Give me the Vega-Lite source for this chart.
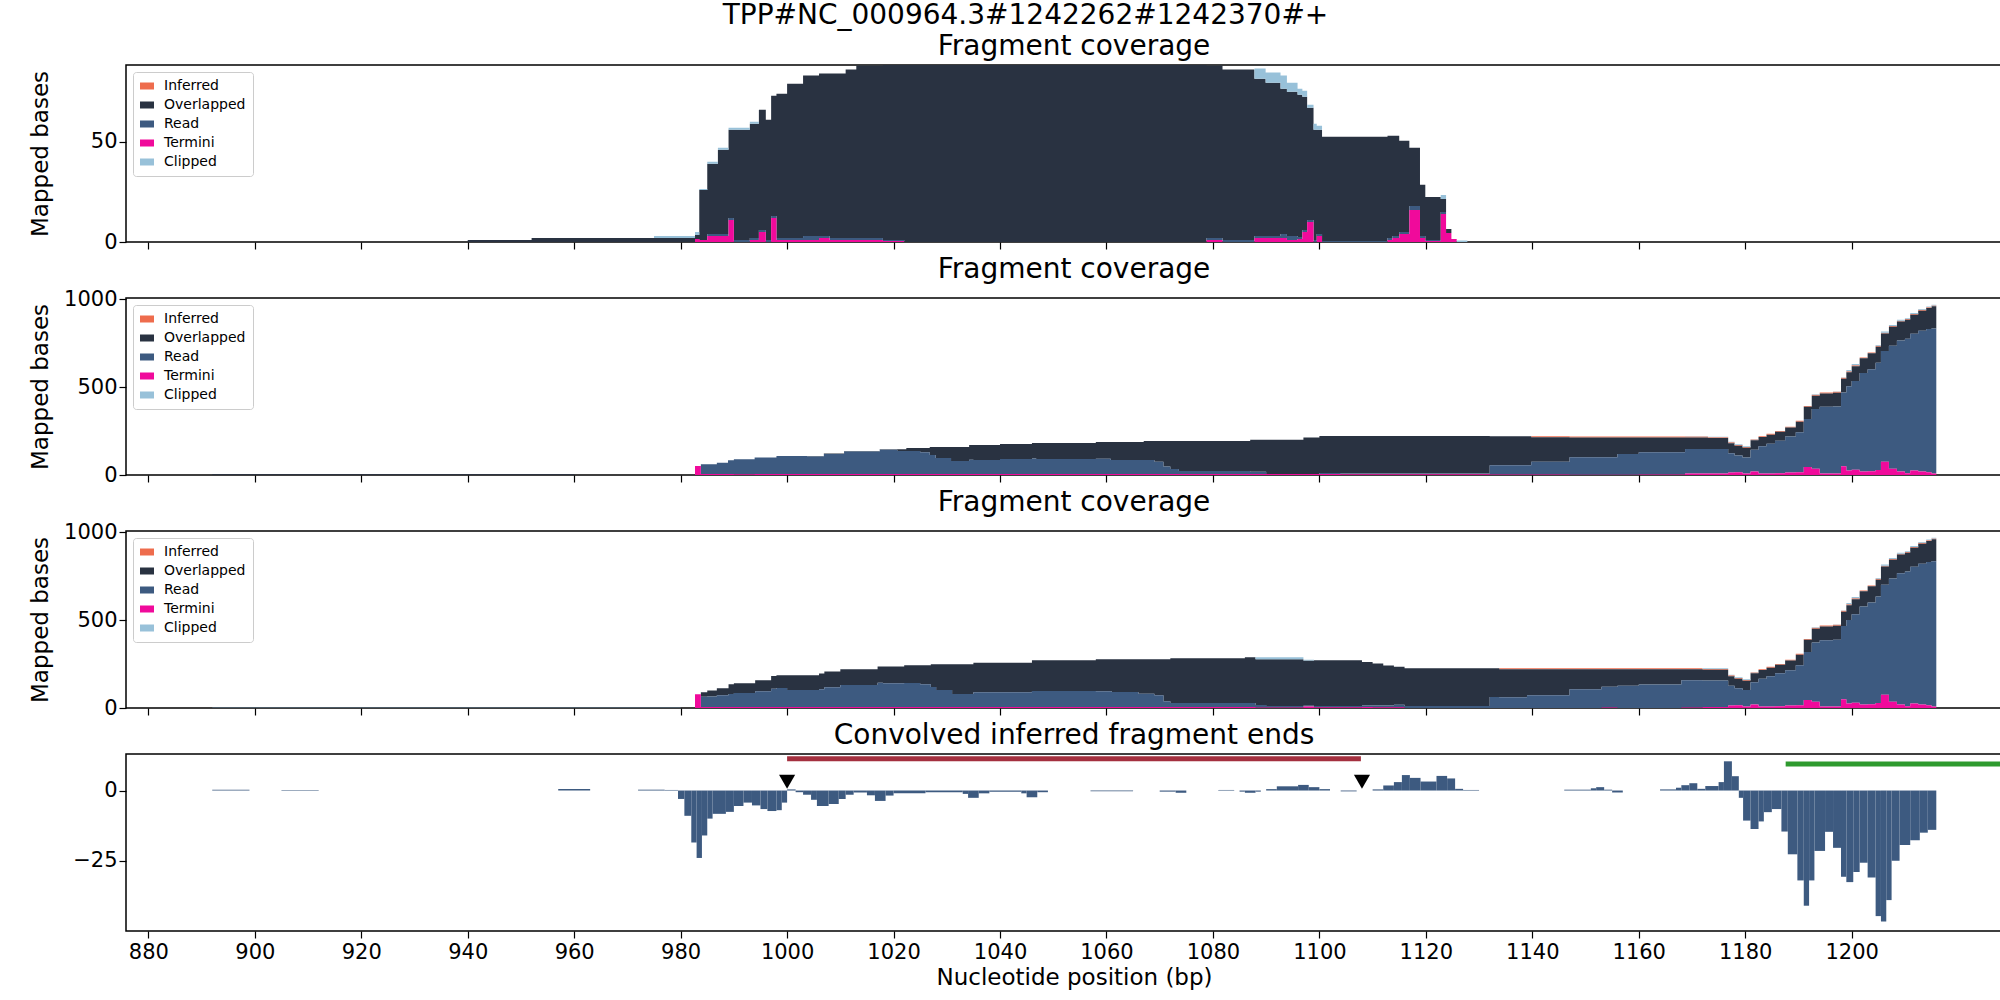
{
"$schema":"https://vega.github.io/schema/vega-lite/v6.json",
"background":"white",
"padding":{"left":28,"top":2,"right":2,"bottom":2},
"title":{"text":"TPP#NC_000964.3#1242262#1242370#+","fontSize":28,"fontWeight":"normal","anchor":"middle","offset":2},
"config":{"font":"DejaVu Sans","view":{"stroke":"black","strokeWidth":1.5},
"title":{"fontSize":28,"fontWeight":"normal","offset":4},
"axis":{"grid":false,"labelFontSize":21,"titleFontSize":23,"titleFontWeight":"normal","tickSize":7,"tickColor":"black","labelColor":"black","titleColor":"black","domain":false,"tickWidth":1.2,"format":"d"},
"axisY":{"minExtent":70,"maxExtent":70,"titlePadding":4},
"legend":{"orient":"top-left","offset":7,"fillColor":"white","strokeColor":"#cccccc","padding":7,"cornerRadius":3,"labelFontSize":14,"symbolType":"M-1,-0.5H1V0.5H-1Z","symbolSize":196,"symbolStrokeWidth":0,"rowPadding":5,"labelOffset":10,"title":null}},
"spacing":2,
"datasets":{
"p1":[
{"x":876,"Inferred":0,"Overlapped":0,"Read":0,"Termini":0,"Clipped":0},
{"x":940,"Inferred":0,"Overlapped":1,"Read":0,"Termini":0,"Clipped":0},
{"x":952,"Inferred":0,"Overlapped":2,"Read":0,"Termini":0,"Clipped":0},
{"x":975,"Inferred":0,"Overlapped":2,"Read":0,"Termini":0,"Clipped":1},
{"x":982.7,"Inferred":0,"Overlapped":2,"Read":0,"Termini":1.5,"Clipped":1.5},
{"x":983.5,"Inferred":0,"Overlapped":25,"Read":0,"Termini":1,"Clipped":0.5},
{"x":985,"Inferred":0,"Overlapped":35,"Read":1,"Termini":3,"Clipped":1},
{"x":987,"Inferred":0,"Overlapped":42,"Read":1,"Termini":3,"Clipped":1},
{"x":989,"Inferred":0,"Overlapped":44,"Read":1,"Termini":11,"Clipped":1},
{"x":990,"Inferred":0,"Overlapped":55,"Read":1,"Termini":0,"Clipped":1},
{"x":993,"Inferred":0,"Overlapped":57,"Read":1,"Termini":1,"Clipped":1},
{"x":994.7,"Inferred":0,"Overlapped":60,"Read":1,"Termini":5,"Clipped":0},
{"x":996,"Inferred":0,"Overlapped":60,"Read":1,"Termini":0,"Clipped":0},
{"x":997,"Inferred":0,"Overlapped":60,"Read":1,"Termini":12,"Clipped":0},
{"x":998,"Inferred":0,"Overlapped":72,"Read":1,"Termini":1,"Clipped":0},
{"x":1000,"Inferred":0,"Overlapped":77,"Read":1,"Termini":1,"Clipped":0},
{"x":1003,"Inferred":0,"Overlapped":80,"Read":2,"Termini":1,"Clipped":0},
{"x":1006,"Inferred":0,"Overlapped":81,"Read":1,"Termini":2,"Clipped":0},
{"x":1008,"Inferred":0,"Overlapped":82,"Read":1,"Termini":1,"Clipped":0},
{"x":1011,"Inferred":0,"Overlapped":84,"Read":1,"Termini":1,"Clipped":0},
{"x":1013,"Inferred":0,"Overlapped":86,"Read":1,"Termini":1,"Clipped":0},
{"x":1018,"Inferred":0,"Overlapped":87.5,"Read":0.5,"Termini":0.5,"Clipped":0},
{"x":1022,"Inferred":0,"Overlapped":88.5,"Read":0,"Termini":0,"Clipped":0},
{"x":1078.8,"Inferred":0,"Overlapped":86,"Read":1,"Termini":1,"Clipped":0},
{"x":1081.8,"Inferred":0,"Overlapped":85,"Read":1,"Termini":0,"Clipped":0},
{"x":1087.8,"Inferred":0,"Overlapped":78.5,"Read":1,"Termini":2,"Clipped":5},
{"x":1089.9,"Inferred":0,"Overlapped":76.5,"Read":1,"Termini":2,"Clipped":5},
{"x":1092.7,"Inferred":0,"Overlapped":72.5,"Read":2,"Termini":2,"Clipped":6.5},
{"x":1093.9,"Inferred":0,"Overlapped":72,"Read":2,"Termini":1,"Clipped":4.5},
{"x":1095.9,"Inferred":0,"Overlapped":71,"Read":1,"Termini":1.5,"Clipped":3},
{"x":1096.8,"Inferred":0,"Overlapped":66.5,"Read":1,"Termini":5,"Clipped":3},
{"x":1097.7,"Inferred":0,"Overlapped":56,"Read":1,"Termini":10,"Clipped":1.5},
{"x":1098.9,"Inferred":0,"Overlapped":55,"Read":1,"Termini":0,"Clipped":3},
{"x":1099.5,"Inferred":0,"Overlapped":52,"Read":1,"Termini":3,"Clipped":2},
{"x":1100.5,"Inferred":0,"Overlapped":52,"Read":0.5,"Termini":0,"Clipped":0},
{"x":1112.8,"Inferred":0,"Overlapped":51,"Read":1,"Termini":1,"Clipped":0},
{"x":1113.7,"Inferred":0,"Overlapped":50,"Read":1,"Termini":2,"Clipped":0},
{"x":1115,"Inferred":0,"Overlapped":45.5,"Read":1,"Termini":4,"Clipped":0},
{"x":1116.9,"Inferred":0,"Overlapped":29,"Read":2,"Termini":16,"Clipped":0},
{"x":1118.9,"Inferred":0,"Overlapped":25.5,"Read":1,"Termini":2,"Clipped":0},
{"x":1119.9,"Inferred":0,"Overlapped":21.5,"Read":0.5,"Termini":0.5,"Clipped":0},
{"x":1122.8,"Inferred":0,"Overlapped":6.5,"Read":1,"Termini":14,"Clipped":2},
{"x":1123.8,"Inferred":0,"Overlapped":2,"Read":0,"Termini":4.5,"Clipped":0},
{"x":1124.8,"Inferred":0,"Overlapped":0,"Read":0,"Termini":1.5,"Clipped":0},
{"x":1125.8,"Inferred":0,"Overlapped":0,"Read":0,"Termini":0,"Clipped":0.8},
{"x":1127.8,"Inferred":0,"Overlapped":0,"Read":0,"Termini":0,"Clipped":0},
{"x":1232,"Inferred":0,"Overlapped":0,"Read":0,"Termini":0,"Clipped":0}
],
"p2":[
{"x":876,"Inferred":0,"Overlapped":0,"Read":0,"Termini":0,"Clipped":0},
{"x":892,"Inferred":0,"Overlapped":4,"Read":0,"Termini":0,"Clipped":0},
{"x":960,"Inferred":0,"Overlapped":0,"Read":0,"Termini":0,"Clipped":0},
{"x":982.7,"Inferred":0,"Overlapped":0,"Read":0,"Termini":51,"Clipped":0},
{"x":983.8,"Inferred":0,"Overlapped":0,"Read":55,"Termini":6,"Clipped":0},
{"x":986.8,"Inferred":0,"Overlapped":0,"Read":64,"Termini":6,"Clipped":0},
{"x":988.9,"Inferred":0,"Overlapped":0,"Read":78,"Termini":6,"Clipped":0},
{"x":990,"Inferred":0,"Overlapped":0,"Read":85,"Termini":4,"Clipped":0},
{"x":993.9,"Inferred":0,"Overlapped":0,"Read":93,"Termini":6,"Clipped":0},
{"x":998,"Inferred":0,"Overlapped":0,"Read":102,"Termini":6,"Clipped":0},
{"x":1003.8,"Inferred":0,"Overlapped":3,"Read":99,"Termini":6,"Clipped":0},
{"x":1006.9,"Inferred":0,"Overlapped":3,"Read":113,"Termini":6,"Clipped":0},
{"x":1010.7,"Inferred":0,"Overlapped":3,"Read":128,"Termini":6,"Clipped":0},
{"x":1017.4,"Inferred":0,"Overlapped":3,"Read":138,"Termini":5,"Clipped":0},
{"x":1020.7,"Inferred":0,"Overlapped":10,"Read":131,"Termini":5,"Clipped":0},
{"x":1022.4,"Inferred":0,"Overlapped":17,"Read":131,"Termini":6,"Clipped":0},
{"x":1025,"Inferred":0,"Overlapped":25,"Read":123,"Termini":6,"Clipped":0},
{"x":1026.8,"Inferred":0,"Overlapped":46,"Read":108,"Termini":6,"Clipped":0},
{"x":1027.9,"Inferred":0,"Overlapped":63,"Read":91,"Termini":6,"Clipped":0},
{"x":1030.8,"Inferred":0,"Overlapped":80,"Read":74,"Termini":6,"Clipped":0},
{"x":1034.2,"Inferred":0,"Overlapped":84,"Read":81,"Termini":6,"Clipped":0},
{"x":1035,"Inferred":0,"Overlapped":86,"Read":79,"Termini":6,"Clipped":0},
{"x":1040,"Inferred":0,"Overlapped":86,"Read":85,"Termini":6,"Clipped":0},
{"x":1046,"Inferred":0,"Overlapped":88,"Read":88,"Termini":6,"Clipped":0},
{"x":1046.8,"Inferred":0,"Overlapped":91,"Read":85,"Termini":6,"Clipped":0},
{"x":1058,"Inferred":0,"Overlapped":95,"Read":87,"Termini":6,"Clipped":0},
{"x":1060.8,"Inferred":0,"Overlapped":103,"Read":79,"Termini":6,"Clipped":0},
{"x":1067,"Inferred":0,"Overlapped":108,"Read":80,"Termini":6,"Clipped":0},
{"x":1069,"Inferred":0,"Overlapped":118,"Read":70,"Termini":6,"Clipped":0},
{"x":1070.7,"Inferred":0,"Overlapped":146,"Read":42,"Termini":6,"Clipped":0},
{"x":1072,"Inferred":0,"Overlapped":160,"Read":28,"Termini":6,"Clipped":0},
{"x":1073.6,"Inferred":0,"Overlapped":171,"Read":17,"Termini":6,"Clipped":0},
{"x":1087,"Inferred":0,"Overlapped":182,"Read":12,"Termini":6,"Clipped":0},
{"x":1090,"Inferred":0,"Overlapped":194,"Read":0,"Termini":6,"Clipped":0},
{"x":1097,"Inferred":0,"Overlapped":207,"Read":0,"Termini":6,"Clipped":0},
{"x":1100,"Inferred":0,"Overlapped":211,"Read":5,"Termini":6,"Clipped":0},
{"x":1104,"Inferred":0,"Overlapped":213,"Read":5,"Termini":4,"Clipped":0},
{"x":1132,"Inferred":0,"Overlapped":165,"Read":53,"Termini":3,"Clipped":0},
{"x":1139.8,"Inferred":5,"Overlapped":140,"Read":72,"Termini":3,"Clipped":0},
{"x":1147,"Inferred":5,"Overlapped":113,"Read":99,"Termini":2,"Clipped":0},
{"x":1156,"Inferred":5,"Overlapped":94,"Read":118,"Termini":2,"Clipped":0},
{"x":1160,"Inferred":5,"Overlapped":85,"Read":126,"Termini":3,"Clipped":0},
{"x":1168.7,"Inferred":5,"Overlapped":66,"Read":140,"Termini":8,"Clipped":2},
{"x":1173,"Inferred":5,"Overlapped":62,"Read":140,"Termini":8,"Clipped":2},
{"x":1176.8,"Inferred":5,"Overlapped":57,"Read":110,"Termini":14,"Clipped":3},
{"x":1178,"Inferred":5,"Overlapped":55,"Read":96,"Termini":15,"Clipped":4},
{"x":1179.5,"Inferred":5,"Overlapped":55,"Read":92,"Termini":8,"Clipped":3},
{"x":1181,"Inferred":5,"Overlapped":53,"Read":124,"Termini":20,"Clipped":1},
{"x":1182.5,"Inferred":5,"Overlapped":52,"Read":156,"Termini":8,"Clipped":0},
{"x":1184,"Inferred":5,"Overlapped":51,"Read":170,"Termini":8,"Clipped":0},
{"x":1185.6,"Inferred":5,"Overlapped":51,"Read":185,"Termini":10,"Clipped":0},
{"x":1187.5,"Inferred":5,"Overlapped":51,"Read":205,"Termini":14,"Clipped":0},
{"x":1189.5,"Inferred":5,"Overlapped":60,"Read":228,"Termini":15,"Clipped":0},
{"x":1191,"Inferred":5,"Overlapped":70,"Read":273,"Termini":45,"Clipped":0},
{"x":1192.5,"Inferred":5,"Overlapped":76,"Read":340,"Termini":35,"Clipped":4},
{"x":1194,"Inferred":5,"Overlapped":76,"Read":380,"Termini":8,"Clipped":0},
{"x":1196.5,"Inferred":5,"Overlapped":78,"Read":382,"Termini":8,"Clipped":2},
{"x":1198,"Inferred":5,"Overlapped":78,"Read":420,"Termini":50,"Clipped":2},
{"x":1199,"Inferred":5,"Overlapped":80,"Read":480,"Termini":25,"Clipped":8},
{"x":1200,"Inferred":5,"Overlapped":84,"Read":505,"Termini":30,"Clipped":7},
{"x":1201.5,"Inferred":5,"Overlapped":84,"Read":560,"Termini":20,"Clipped":0},
{"x":1203,"Inferred":5,"Overlapped":90,"Read":580,"Termini":22,"Clipped":0},
{"x":1204.5,"Inferred":5,"Overlapped":92,"Read":610,"Termini":28,"Clipped":4},
{"x":1205.5,"Inferred":5,"Overlapped":100,"Read":630,"Termini":75,"Clipped":7},
{"x":1207,"Inferred":5,"Overlapped":108,"Read":700,"Termini":35,"Clipped":5},
{"x":1208.5,"Inferred":5,"Overlapped":108,"Read":745,"Termini":20,"Clipped":5},
{"x":1210,"Inferred":5,"Overlapped":108,"Read":765,"Termini":10,"Clipped":4},
{"x":1211,"Inferred":5,"Overlapped":108,"Read":778,"Termini":25,"Clipped":6},
{"x":1212.5,"Inferred":5,"Overlapped":115,"Read":800,"Termini":20,"Clipped":4},
{"x":1214,"Inferred":5,"Overlapped":120,"Read":815,"Termini":15,"Clipped":3},
{"x":1215,"Inferred":5,"Overlapped":127,"Read":825,"Termini":8,"Clipped":3},
{"x":1215.9,"Inferred":0,"Overlapped":0,"Read":0,"Termini":0,"Clipped":0},
{"x":1232,"Inferred":0,"Overlapped":0,"Read":0,"Termini":0,"Clipped":0}
],
"p3":[
{"x":876,"Inferred":0,"Overlapped":0,"Read":0,"Termini":0,"Clipped":0},
{"x":892,"Inferred":0,"Overlapped":3,"Read":0,"Termini":0,"Clipped":1},
{"x":980,"Inferred":0,"Overlapped":0,"Read":0,"Termini":0,"Clipped":0},
{"x":982.7,"Inferred":0,"Overlapped":0,"Read":0,"Termini":78,"Clipped":0},
{"x":983.8,"Inferred":0,"Overlapped":25,"Read":58,"Termini":6,"Clipped":0},
{"x":985,"Inferred":0,"Overlapped":34,"Read":60,"Termini":6,"Clipped":0},
{"x":986.8,"Inferred":0,"Overlapped":40,"Read":66,"Termini":6,"Clipped":0},
{"x":989,"Inferred":0,"Overlapped":55,"Read":74,"Termini":6,"Clipped":0},
{"x":990,"Inferred":0,"Overlapped":55,"Read":80,"Termini":6,"Clipped":0},
{"x":994,"Inferred":0,"Overlapped":63,"Read":89,"Termini":6,"Clipped":0},
{"x":997,"Inferred":0,"Overlapped":72,"Read":104,"Termini":6,"Clipped":0},
{"x":998,"Inferred":0,"Overlapped":72,"Read":108,"Termini":6,"Clipped":0},
{"x":1000,"Inferred":0,"Overlapped":84,"Read":96,"Termini":6,"Clipped":0},
{"x":1006,"Inferred":0,"Overlapped":89,"Read":101,"Termini":6,"Clipped":0},
{"x":1007,"Inferred":0,"Overlapped":89,"Read":112,"Termini":6,"Clipped":0},
{"x":1010,"Inferred":0,"Overlapped":89,"Read":125,"Termini":6,"Clipped":0},
{"x":1017,"Inferred":0,"Overlapped":92,"Read":138,"Termini":6,"Clipped":0},
{"x":1018,"Inferred":0,"Overlapped":95,"Read":135,"Termini":6,"Clipped":0},
{"x":1022,"Inferred":0,"Overlapped":101,"Read":136,"Termini":6,"Clipped":0},
{"x":1025,"Inferred":0,"Overlapped":108,"Read":129,"Termini":6,"Clipped":0},
{"x":1027,"Inferred":0,"Overlapped":129,"Read":114,"Termini":6,"Clipped":0},
{"x":1028,"Inferred":0,"Overlapped":146,"Read":97,"Termini":6,"Clipped":0},
{"x":1031,"Inferred":0,"Overlapped":169,"Read":74,"Termini":6,"Clipped":0},
{"x":1035,"Inferred":0,"Overlapped":169,"Read":83,"Termini":6,"Clipped":0},
{"x":1046,"Inferred":0,"Overlapped":175,"Read":91,"Termini":6,"Clipped":0},
{"x":1058,"Inferred":0,"Overlapped":181,"Read":90,"Termini":6,"Clipped":0},
{"x":1061,"Inferred":0,"Overlapped":186,"Read":85,"Termini":6,"Clipped":0},
{"x":1066,"Inferred":0,"Overlapped":196,"Read":75,"Termini":6,"Clipped":0},
{"x":1069,"Inferred":0,"Overlapped":205,"Read":66,"Termini":6,"Clipped":0},
{"x":1070.7,"Inferred":0,"Overlapped":238,"Read":33,"Termini":6,"Clipped":0},
{"x":1072,"Inferred":0,"Overlapped":255,"Read":22,"Termini":6,"Clipped":0},
{"x":1086,"Inferred":0,"Overlapped":260,"Read":23,"Termini":6,"Clipped":0},
{"x":1088,"Inferred":0,"Overlapped":260,"Read":14,"Termini":3,"Clipped":12},
{"x":1090,"Inferred":0,"Overlapped":266,"Read":8,"Termini":3,"Clipped":12},
{"x":1097,"Inferred":0,"Overlapped":257,"Read":5,"Termini":8,"Clipped":4},
{"x":1099,"Inferred":0,"Overlapped":260,"Read":8,"Termini":4,"Clipped":0},
{"x":1108,"Inferred":0,"Overlapped":248,"Read":8,"Termini":6,"Clipped":0},
{"x":1110,"Inferred":0,"Overlapped":239,"Read":10,"Termini":4,"Clipped":0},
{"x":1112,"Inferred":0,"Overlapped":228,"Read":10,"Termini":4,"Clipped":0},
{"x":1114,"Inferred":0,"Overlapped":215,"Read":15,"Termini":4,"Clipped":0},
{"x":1116,"Inferred":0,"Overlapped":215,"Read":11,"Termini":0,"Clipped":0},
{"x":1132,"Inferred":0,"Overlapped":163,"Read":63,"Termini":0,"Clipped":0},
{"x":1133.8,"Inferred":5,"Overlapped":160,"Read":61,"Termini":0,"Clipped":0},
{"x":1139,"Inferred":5,"Overlapped":148,"Read":73,"Termini":0,"Clipped":0},
{"x":1147,"Inferred":5,"Overlapped":114,"Read":107,"Termini":0,"Clipped":0},
{"x":1153,"Inferred":5,"Overlapped":100,"Read":118,"Termini":3,"Clipped":0},
{"x":1156,"Inferred":5,"Overlapped":95,"Read":126,"Termini":0,"Clipped":0},
{"x":1160,"Inferred":5,"Overlapped":87,"Read":134,"Termini":0,"Clipped":0},
{"x":1168,"Inferred":5,"Overlapped":63,"Read":155,"Termini":3,"Clipped":0},
{"x":1172,"Inferred":5,"Overlapped":60,"Read":152,"Termini":5,"Clipped":4},
{"x":1176.8,"Inferred":5,"Overlapped":55,"Read":112,"Termini":14,"Clipped":3},
{"x":1178,"Inferred":5,"Overlapped":53,"Read":98,"Termini":15,"Clipped":4},
{"x":1179.5,"Inferred":5,"Overlapped":53,"Read":94,"Termini":8,"Clipped":3},
{"x":1181,"Inferred":5,"Overlapped":51,"Read":126,"Termini":20,"Clipped":1},
{"x":1182.5,"Inferred":5,"Overlapped":50,"Read":158,"Termini":8,"Clipped":0},
{"x":1184,"Inferred":5,"Overlapped":49,"Read":172,"Termini":8,"Clipped":0},
{"x":1185.6,"Inferred":5,"Overlapped":49,"Read":187,"Termini":10,"Clipped":0},
{"x":1187.5,"Inferred":5,"Overlapped":55,"Read":201,"Termini":14,"Clipped":0},
{"x":1189.5,"Inferred":5,"Overlapped":60,"Read":228,"Termini":15,"Clipped":0},
{"x":1191,"Inferred":5,"Overlapped":70,"Read":273,"Termini":45,"Clipped":0},
{"x":1192.5,"Inferred":5,"Overlapped":78,"Read":338,"Termini":35,"Clipped":4},
{"x":1194,"Inferred":5,"Overlapped":78,"Read":378,"Termini":8,"Clipped":0},
{"x":1196.5,"Inferred":5,"Overlapped":80,"Read":380,"Termini":8,"Clipped":2},
{"x":1198,"Inferred":5,"Overlapped":82,"Read":416,"Termini":50,"Clipped":2},
{"x":1199,"Inferred":5,"Overlapped":84,"Read":476,"Termini":25,"Clipped":8},
{"x":1200,"Inferred":5,"Overlapped":86,"Read":503,"Termini":30,"Clipped":7},
{"x":1201.5,"Inferred":5,"Overlapped":86,"Read":558,"Termini":20,"Clipped":0},
{"x":1203,"Inferred":5,"Overlapped":92,"Read":578,"Termini":22,"Clipped":0},
{"x":1204.5,"Inferred":5,"Overlapped":96,"Read":606,"Termini":28,"Clipped":4},
{"x":1205.5,"Inferred":5,"Overlapped":104,"Read":626,"Termini":75,"Clipped":7},
{"x":1207,"Inferred":5,"Overlapped":106,"Read":702,"Termini":35,"Clipped":5},
{"x":1208.5,"Inferred":5,"Overlapped":106,"Read":747,"Termini":20,"Clipped":5},
{"x":1210,"Inferred":5,"Overlapped":106,"Read":767,"Termini":10,"Clipped":4},
{"x":1211,"Inferred":5,"Overlapped":108,"Read":778,"Termini":25,"Clipped":6},
{"x":1212.5,"Inferred":5,"Overlapped":114,"Read":801,"Termini":20,"Clipped":4},
{"x":1214,"Inferred":5,"Overlapped":120,"Read":815,"Termini":15,"Clipped":3},
{"x":1215,"Inferred":5,"Overlapped":125,"Read":827,"Termini":8,"Clipped":3},
{"x":1215.9,"Inferred":0,"Overlapped":0,"Read":0,"Termini":0,"Clipped":0},
{"x":1232,"Inferred":0,"Overlapped":0,"Read":0,"Termini":0,"Clipped":0}
],
"p4":[
{"x":892,"x2":899,"v":0.3},{"x":905,"x2":912,"v":0.2},{"x":957,"x2":963,"v":0.5},{"x":972,"x2":977,"v":0.3},{"x":977,"x2":979.5,"v":0.2},
{"x":979.5,"x2":980.7,"v":-3},{"x":980.7,"x2":982,"v":-9},{"x":982,"x2":983,"v":-18.5},{"x":983,"x2":984,"v":-24},{"x":984,"x2":985,"v":-16},{"x":985,"x2":986,"v":-10},{"x":986,"x2":988.5,"v":-8.3},{"x":988.5,"x2":990,"v":-7.6},{"x":990,"x2":991.8,"v":-5.5},{"x":991.8,"x2":993.4,"v":-4.3},{"x":993.4,"x2":995,"v":-5.3},{"x":995,"x2":996.3,"v":-6.6},{"x":996.3,"x2":998,"v":-7.3},{"x":998,"x2":999,"v":-7},{"x":999,"x2":1000,"v":-4.3},{"x":1000,"x2":1001.6,"v":0.4},{"x":1001.6,"x2":1003,"v":-0.6},{"x":1003,"x2":1004.5,"v":-1.5},{"x":1004.5,"x2":1005.6,"v":-3.3},{"x":1005.6,"x2":1007.8,"v":-5.5},{"x":1007.8,"x2":1009.7,"v":-4.8},{"x":1009.7,"x2":1011,"v":-3},{"x":1011,"x2":1012.5,"v":-1.5},{"x":1012.5,"x2":1015,"v":-0.7},{"x":1015,"x2":1016.5,"v":-1.7},{"x":1016.5,"x2":1018.5,"v":-3.7},{"x":1018.5,"x2":1020,"v":-1.8},{"x":1020,"x2":1026,"v":-1},{"x":1026,"x2":1033,"v":-0.6},{"x":1033,"x2":1034,"v":-1.2},{"x":1034,"x2":1036,"v":-2.6},{"x":1036,"x2":1038,"v":-1},{"x":1038,"x2":1044,"v":-0.4},{"x":1044,"x2":1045,"v":-1},{"x":1045,"x2":1047,"v":-2.4},{"x":1047,"x2":1049,"v":-0.6},{"x":1057,"x2":1065,"v":-0.3},{"x":1070,"x2":1073,"v":-0.4},{"x":1073,"x2":1075,"v":-0.8},{"x":1081,"x2":1084,"v":0.2},{"x":1085,"x2":1086,"v":-0.4},{"x":1086,"x2":1088,"v":-0.8},{"x":1088,"x2":1089,"v":-0.4},{"x":1090,"x2":1092,"v":0.5},{"x":1092,"x2":1096,"v":1.5},{"x":1096,"x2":1098,"v":2},{"x":1098,"x2":1100,"v":1.2},{"x":1100,"x2":1102,"v":0.5},{"x":1104,"x2":1107,"v":-0.3},{"x":1110,"x2":1112,"v":0.4},{"x":1112,"x2":1114,"v":1.8},{"x":1114,"x2":1115.5,"v":3},{"x":1115.5,"x2":1117,"v":5.5},{"x":1117,"x2":1119,"v":4.5},{"x":1119,"x2":1122,"v":3.2},{"x":1122,"x2":1124,"v":5.2},{"x":1124,"x2":1125.5,"v":4.3},{"x":1125.5,"x2":1127,"v":0.6},{"x":1127,"x2":1130,"v":0.2},{"x":1146,"x2":1151,"v":0.3},{"x":1151,"x2":1152,"v":0.8},{"x":1152,"x2":1153.5,"v":1.2},{"x":1153.5,"x2":1155,"v":0.3},{"x":1155,"x2":1157,"v":-0.7},{"x":1164,"x2":1167,"v":0.4},{"x":1167,"x2":1168,"v":1},{"x":1168,"x2":1169.5,"v":1.9},{"x":1169.5,"x2":1171,"v":2.6},{"x":1171,"x2":1172.5,"v":0.6},{"x":1172.5,"x2":1175,"v":1.6},{"x":1175,"x2":1176,"v":3},{"x":1176,"x2":1177.5,"v":10.4},{"x":1177.5,"x2":1178.8,"v":5.1},{"x":1178.8,"x2":1179.6,"v":-2.6},{"x":1179.6,"x2":1181,"v":-10.7},{"x":1181,"x2":1182.5,"v":-13.7},{"x":1182.5,"x2":1183.5,"v":-11},{"x":1183.5,"x2":1185,"v":-7.7},{"x":1185,"x2":1186.8,"v":-6.6},{"x":1186.8,"x2":1188,"v":-14.6},{"x":1188,"x2":1189.8,"v":-22.7},{"x":1189.8,"x2":1191,"v":-32},{"x":1191,"x2":1192,"v":-41},{"x":1192,"x2":1193,"v":-32},{"x":1193,"x2":1195,"v":-21.5},{"x":1195,"x2":1196.5,"v":-14.7},{"x":1196.5,"x2":1198,"v":-20.4},{"x":1198,"x2":1199,"v":-30.7},{"x":1199,"x2":1200.3,"v":-32.6},{"x":1200.3,"x2":1201.5,"v":-29},{"x":1201.5,"x2":1203,"v":-25.7},{"x":1203,"x2":1204.5,"v":-31},{"x":1204.5,"x2":1205.5,"v":-44.7},{"x":1205.5,"x2":1206.5,"v":-46.6},{"x":1206.5,"x2":1207.5,"v":-39},{"x":1207.5,"x2":1209,"v":-25},{"x":1209,"x2":1211,"v":-19.4},{"x":1211,"x2":1212.8,"v":-17.7},{"x":1212.8,"x2":1214.3,"v":-15},{"x":1214.3,"x2":1215.9,"v":-14}
],
"lines":[{"x":1000,"x2":1107.8,"y":11.3,"c":"red"},{"x":1187.6,"x2":1240,"y":9.4,"c":"green"}],
"tri":[{"x":1000,"y":3.1},{"x":1108,"y":3.1}]
},
"vconcat":[
{"title":"Fragment coverage","width":1896,"height":177,"data":{"name":"p1"},
"transform":[{"fold":["Inferred","Overlapped","Read","Termini","Clipped"],"as":["cat","val"]}],
"mark":{"type":"area","interpolate":"step-after","clip":true},
"encoding":{"x":{"field":"x","type":"quantitative","scale":{"domain":[875.8,1232],"nice":false,"zero":false},"axis":{"values":[880,900,920,940,960,980,1000,1020,1040,1060,1080,1100,1120,1140,1160,1180,1200],"labels":false,"title":null}},
"y":{"field":"val","type":"quantitative","stack":"zero","scale":{"domain":[0,88.3],"nice":false},"axis":{"values":[0,50],"title":"Mapped bases"}},
"color":{"field":"cat","type":"nominal","sort":["Clipped","Termini","Read","Overlapped","Inferred"],"scale":{"domain":["Inferred","Overlapped","Read","Termini","Clipped"],"range":["#ee6c4d","#293241","#3d5a80","#f00a9b","#98c1d9"]}}}},
{"title":"Fragment coverage","width":1896,"height":177,"data":{"name":"p2"},
"transform":[{"fold":["Inferred","Overlapped","Read","Termini","Clipped"],"as":["cat","val"]}],
"mark":{"type":"area","interpolate":"step-after","clip":true},
"encoding":{"x":{"field":"x","type":"quantitative","scale":{"domain":[875.8,1232],"nice":false,"zero":false},"axis":{"values":[880,900,920,940,960,980,1000,1020,1040,1060,1080,1100,1120,1140,1160,1180,1200],"labels":false,"title":null}},
"y":{"field":"val","type":"quantitative","stack":"zero","scale":{"domain":[0,1007],"nice":false},"axis":{"values":[0,500,1000],"title":"Mapped bases"}},
"color":{"field":"cat","type":"nominal","sort":["Clipped","Termini","Read","Overlapped","Inferred"],"scale":{"domain":["Inferred","Overlapped","Read","Termini","Clipped"],"range":["#ee6c4d","#293241","#3d5a80","#f00a9b","#98c1d9"]}}}},
{"title":"Fragment coverage","width":1896,"height":177,"data":{"name":"p3"},
"transform":[{"fold":["Inferred","Overlapped","Read","Termini","Clipped"],"as":["cat","val"]}],
"mark":{"type":"area","interpolate":"step-after","clip":true},
"encoding":{"x":{"field":"x","type":"quantitative","scale":{"domain":[875.8,1232],"nice":false,"zero":false},"axis":{"values":[880,900,920,940,960,980,1000,1020,1040,1060,1080,1100,1120,1140,1160,1180,1200],"labels":false,"title":null}},
"y":{"field":"val","type":"quantitative","stack":"zero","scale":{"domain":[0,1007],"nice":false},"axis":{"values":[0,500,1000],"title":"Mapped bases"}},
"color":{"field":"cat","type":"nominal","sort":["Clipped","Termini","Read","Overlapped","Inferred"],"scale":{"domain":["Inferred","Overlapped","Read","Termini","Clipped"],"range":["#ee6c4d","#293241","#3d5a80","#f00a9b","#98c1d9"]}}}},
{"title":"Convolved inferred fragment ends","width":1896,"height":177,
"layer":[
{"data":{"name":"p4"},"mark":{"type":"rect","color":"#3d5a80","clip":true},
"encoding":{"x":{"field":"x","type":"quantitative","scale":{"domain":[875.8,1232],"nice":false,"zero":false},"axis":{"values":[880,900,920,940,960,980,1000,1020,1040,1060,1080,1100,1120,1140,1160,1180,1200],"title":"Nucleotide position (bp)","labelPadding":3,"titlePadding":4}},
"x2":{"field":"x2"},
"y":{"field":"v","type":"quantitative","scale":{"domain":[-50,13],"nice":false},"axis":{"values":[-25,0],"title":null}},
"y2":{"datum":0}}},
{"data":{"name":"lines"},"mark":{"type":"rule","strokeWidth":5,"clip":true},
"encoding":{"x":{"field":"x","type":"quantitative"},"x2":{"field":"x2"},"y":{"field":"y","type":"quantitative"},
"color":{"field":"c","type":"nominal","scale":{"domain":["red","green"],"range":["#a4303f","#2e9a2e"]},"legend":null}}},
{"data":{"name":"tri"},"mark":{"type":"point","shape":"triangle-down","filled":true,"color":"black","size":260,"opacity":1},
"encoding":{"x":{"field":"x","type":"quantitative"},"y":{"field":"y","type":"quantitative"}}}
],
"resolve":{"scale":{"color":"independent"}}}
],
"resolve":{"legend":{"color":"independent"},"scale":{"color":"independent"}}
}
